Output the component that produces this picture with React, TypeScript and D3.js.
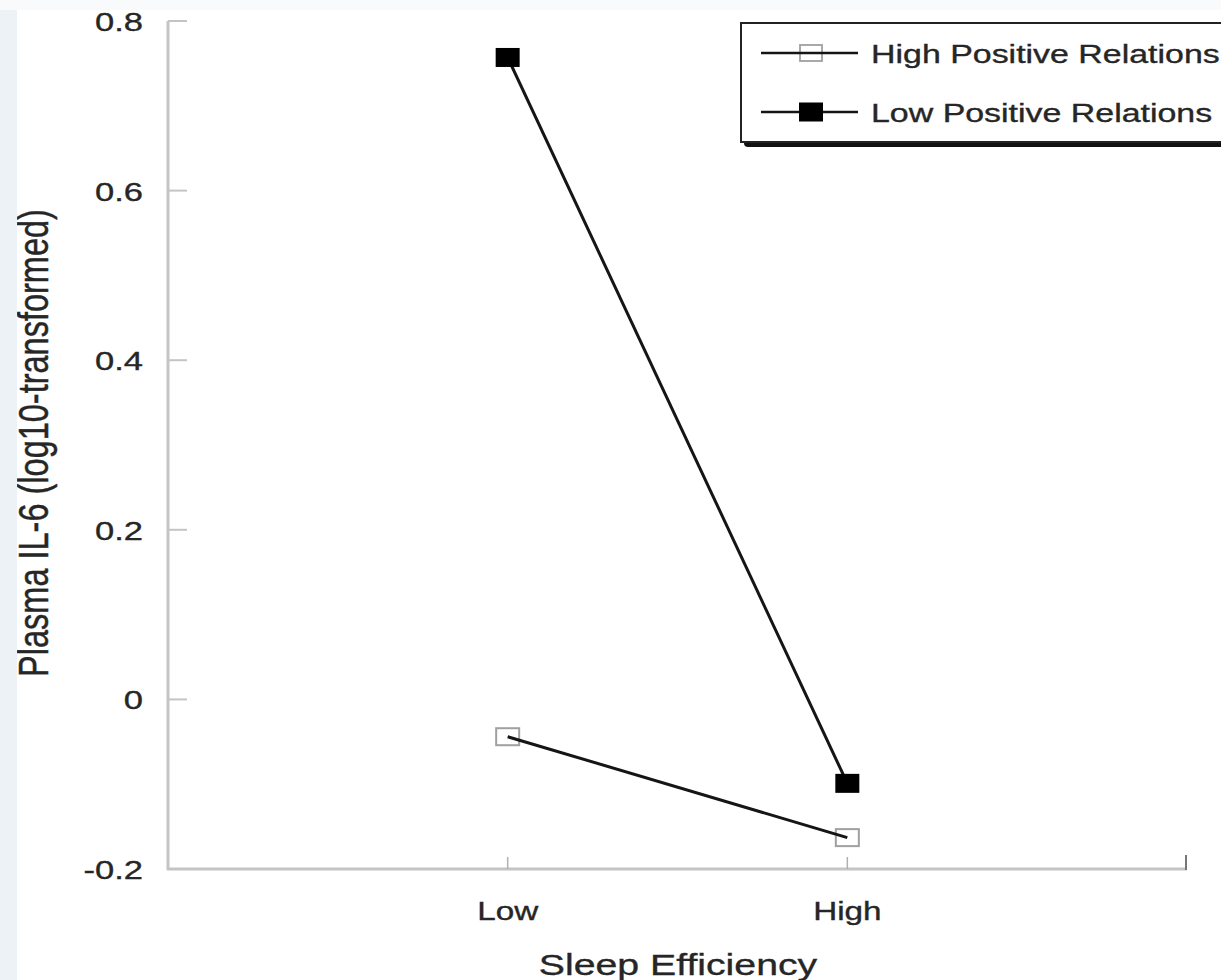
import React from "react";
import * as d3 from "d3";

const categories = ["Low", "High"];
const highPositive = [-0.044, -0.163];
const lowPositive = [0.757, -0.099];
const yTicks = [0.8, 0.6, 0.4, 0.2, 0, -0.2];
const yTickLabels = ["0.8", "0.6", "0.4", "0.2", "0", "-0.2"];
const seriesNames = ["High Positive Relations", "Low Positive Relations"];

const W = 1221;
const H = 980;
const SX = 1.33; // horizontal stretch of the original image
const FONT = "Liberation Sans, Arial, Helvetica, sans-serif";
const TEXT = "#262626";
const AXIS = "#c4c4c4";

export default function App() {
  const x = d3.scalePoint<string>().domain(categories).range([168, 1187]).padding(1);
  const y = d3.scaleLinear().domain([-0.2, 0.8]).range([869, 21]);
  const line = d3
    .line<number>()
    .x((_, i) => x(categories[i]) as number)
    .y((d) => y(d));

  const openW = 23, openH = 17;
  const fillW = 24, fillH = 19;

  const stretchText = (tx: number, ty: number, rot = 0) =>
    `translate(${tx},${ty}) scale(${SX},1)${rot ? ` rotate(${rot})` : ""}`;

  const legendRows = [
    { name: seriesNames[0], y: 53, filled: false },
    { name: seriesNames[1], y: 112, filled: true },
  ];

  const textStyle = { stroke: TEXT, strokeWidth: 0.35 } as const;

  return (
    <svg
      width={W}
      height={H}
      style={{ position: "absolute", left: 0, top: 0, background: "#fff" }}
      fontFamily={FONT}
    >
      <rect x={0} y={0} width={W} height={H} fill="#ffffff" />
      <rect x={0} y={0} width={W} height={10} fill="#f9fafb" />

      {/* y axis */}
      <line x1={168} x2={168} y1={y(0.8)} y2={y(-0.2) + 1} stroke={AXIS} strokeWidth={3} />
      {yTicks.map((t, i) => (
        <g key={"yt" + i}>
          {t !== -0.2 && (
            <line x1={168} x2={187} y1={y(t)} y2={y(t)} stroke={AXIS} strokeWidth={2} />
          )}
          <text
            transform={stretchText(143, y(t) + 10)}
            fontSize={26}
            textAnchor="end"
            fill={TEXT}
            {...textStyle}
          >
            {yTickLabels[i]}
          </text>
        </g>
      ))}

      {/* x axis */}
      <line x1={167} x2={1187} y1={y(-0.2)} y2={y(-0.2)} stroke={AXIS} strokeWidth={3} />
      {categories.map((c) => (
        <g key={"xt" + c}>
          <line
            x1={x(c) as number}
            x2={x(c) as number}
            y1={y(-0.2)}
            y2={y(-0.2) - 12}
            stroke="#b0b0b0"
            strokeWidth={1.5}
          />
          <text
            transform={stretchText(x(c) as number, 920)}
            fontSize={25}
            textAnchor="middle"
            fill={TEXT}
            {...textStyle}
          >
            {c}
          </text>
        </g>
      ))}
      <line x1={1186} x2={1186} y1={y(-0.2) + 1} y2={y(-0.2) - 14} stroke="#777" strokeWidth={2} />

      {/* axis titles */}
      <text
        transform={stretchText(678, 975)}
        fontSize={29.5}
        textAnchor="middle"
        fill={TEXT}
        {...textStyle}
      >
        Sleep Efficiency
      </text>
      <text
        transform={stretchText(48, 443, -90)}
        fontSize={32.5}
        textAnchor="middle"
        fill={TEXT}
        {...textStyle}
      >
        Plasma IL-6 (log10-transformed)
      </text>
      <rect x={0} y={10} width={17} height={H - 10} fill="#edf2f7" />

      {/* open markers */}
      {highPositive.map((v, i) => (
        <rect
          key={"ho" + i}
          x={(x(categories[i]) as number) - openW / 2}
          y={y(v) - openH / 2}
          width={openW}
          height={openH}
          fill="#fff"
          stroke="#a0a0a0"
          strokeWidth={2}
        />
      ))}
      {/* lines */}
      <path d={line(highPositive) || ""} fill="none" stroke="#151515" strokeWidth={3} />
      <path d={line(lowPositive) || ""} fill="none" stroke="#151515" strokeWidth={3} />
      {/* filled markers */}
      {lowPositive.map((v, i) => (
        <rect
          key={"lf" + i}
          x={(x(categories[i]) as number) - fillW / 2}
          y={y(v) - fillH / 2}
          width={fillW}
          height={fillH}
          fill="#000"
        />
      ))}

      {/* legend */}
      <rect x={744} y={27} width={520} height={120} rx={4} fill="#111" />
      <rect x={741} y={23} width={520} height={119} fill="#fff" stroke="#222" strokeWidth={2} />
      {legendRows.map((r) => (
        <g key={r.name}>
          {!r.filled && (
            <rect x={811 - 11} y={r.y - 8} width={22} height={16} fill="#fff" stroke="#a0a0a0" strokeWidth={1.8} />
          )}
          <line x1={761} x2={858} y1={r.y} y2={r.y} stroke="#151515" strokeWidth={2.6} />
          {r.filled && <rect x={811 - 12} y={r.y - 9.5} width={24} height={19} fill="#000" />}
          <text transform={stretchText(871, r.y + 10)} fontSize={25.5} fill={TEXT} {...textStyle}>
            {r.name}
          </text>
        </g>
      ))}
    </svg>
  );
}
